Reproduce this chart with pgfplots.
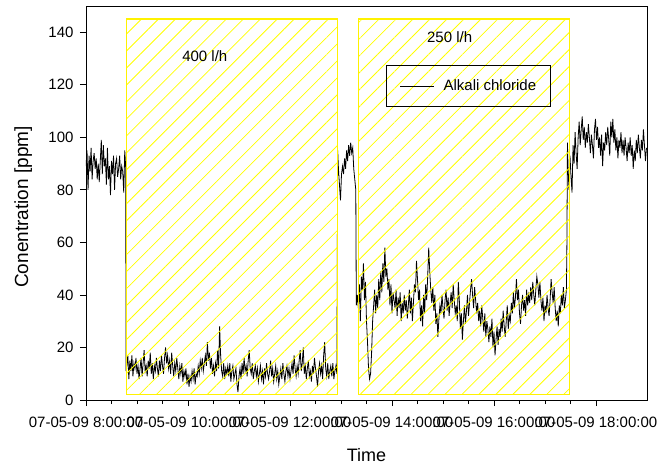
\documentclass[border=0pt]{standalone}
\usepackage{fontspec}
\setmainfont{Liberation Sans}
\usepackage{pgfplots}
\pgfplotsset{compat=1.18}
\usetikzlibrary{patterns.meta}

\begin{document}
\begin{tikzpicture}
\begin{axis}[
  at={(0pt,0pt)}, anchor=south west,
  scale only axis, width=561pt, height=394pt,
  xmin=8, xmax=19, ymin=0, ymax=150,
  xtick={8,10,12,14,16,18},
  xticklabels={07-05-09 8:00:00,07-05-09 10:00:00,07-05-09 12:00:00,07-05-09 14:00:00,07-05-09 16:00:00,07-05-09 18:00:00},
  minor x tick num=3,
  ytick={0,20,...,140},
  tick align=outside, tick pos=left,
  major tick length=6pt, minor tick length=4pt,
  every tick/.style={black, line width=0.8pt},
  axis line style={line width=0.8pt},
  ticklabel style={font=\fontsize{15}{18}\selectfont},
  xticklabel style={yshift=-7pt},
  yticklabel style={xshift=-3pt},
  /pgf/number format/assume math mode=true,
  xlabel={Time}, ylabel={Conentration [ppm]},
  x label style={at={(axis description cs:0.5,-0.14)}, anchor=center, font=\fontsize{18}{21}\selectfont},
  y label style={at={(axis description cs:-0.112,0.49)}, anchor=center, font=\fontsize{19}{22}\selectfont},
  legend style={at={(0.5355,0.8503)}, anchor=north west, draw=black, fill=none, line width=0.8pt,
    font=\fontsize{15}{18}\selectfont, inner xsep=13pt, inner ysep=13.5pt,
    nodes={inner sep=1pt},
    /tikz/every odd column/.append style={column sep=8pt}},
  legend image code/.code={\draw[#1] (0pt,0pt) -- (34pt,0pt);},
  legend cell align=left,
]
\addplot[black, line width=0.8pt] table {
x y
8.00 89
8.02 95
8.04 80
8.06 93
8.08 87
8.10 96
8.12 84
8.14 91
8.16 94
8.18 88
8.20 92
8.22 84
8.24 90
8.26 83
8.28 91
8.30 99
8.32 86
8.34 97
8.36 89
8.38 92
8.40 82
8.42 96
8.44 84
8.46 89
8.48 78
8.50 91
8.52 86
8.54 93
8.56 80
8.58 90
8.60 92
8.62 85
8.64 88
8.66 93
8.68 84
8.70 89
8.72 87
8.74 79
8.76 95
8.78 88
8.785 12
8.80 13
8.82 17
8.84 8
8.86 15
8.88 11
8.90 17
8.92 9
8.94 14
8.96 12
8.98 16
9.00 10
9.02 13
9.04 8
9.06 12
9.08 16
9.10 9
9.12 14
9.14 19
9.16 11
9.18 13
9.20 9
9.22 15
9.24 12
9.26 18
9.28 10
9.30 14
9.32 8
9.34 13
9.36 11
9.38 16
9.40 12
9.42 9
9.44 15
9.46 11
9.48 17
9.50 13
9.52 10
9.54 16
9.56 20
9.58 14
9.60 17
9.62 12
9.64 15
9.66 10
9.68 18
9.70 13
9.72 9
9.74 14
9.76 11
9.78 16
9.80 12
9.82 8
9.84 13
9.86 10
9.88 14
9.90 7
9.92 11
9.94 9
9.96 12
9.98 6
10.00 10
10.02 5
10.04 9
10.06 7
10.08 11
10.10 8
10.12 12
10.14 6
10.16 10
10.18 9
10.20 13
10.22 10
10.24 15
10.26 12
10.28 16
10.30 11
10.32 14
10.34 17
10.36 13
10.38 22
10.40 15
10.42 18
10.44 12
10.46 16
10.48 10
10.50 13
10.52 9
10.54 14
10.56 11
10.58 19
10.60 12
10.62 28
10.64 17
10.66 11
10.68 9
10.70 14
10.72 8
10.74 12
10.76 10
10.78 13
10.80 9
10.82 14
10.84 7
10.86 11
10.88 13
10.90 8
10.92 10
10.94 12
10.96 6
10.98 3
11.00 9
11.02 12
11.04 8
11.06 14
11.08 10
11.10 16
11.12 11
11.14 13
11.16 9
11.18 15
11.20 19
11.22 12
11.24 10
11.26 14
11.28 8
11.30 11
11.32 13
11.34 9
11.36 12
11.38 7
11.40 10
11.42 13
11.44 8
11.46 11
11.48 6
11.50 12
11.52 9
11.54 14
11.56 10
11.58 8
11.60 11
11.62 15
11.64 9
11.66 12
11.68 7
11.70 10
11.72 13
11.74 8
11.76 11
11.78 6
11.80 9
11.82 12
11.84 8
11.86 14
11.88 10
11.90 7
11.92 11
11.94 13
11.96 9
11.98 12
12.00 8
12.02 11
12.04 14
12.06 10
12.08 17
12.10 12
12.12 9
12.14 13
12.16 10
12.18 15
12.20 19
12.22 11
12.24 14
12.26 20
12.28 10
12.30 13
12.32 8
12.34 12
12.36 15
12.38 9
12.40 11
12.42 7
12.44 13
12.46 10
12.48 16
12.50 12
12.52 9
12.54 5
12.56 11
12.58 14
12.60 10
12.62 13
12.64 8
12.66 17
12.68 22
12.70 12
12.72 9
12.74 14
12.76 8
12.78 11
12.80 13
12.82 9
12.84 14
12.86 8
12.88 11
12.90 13
12.92 10
12.935 95
12.95 88
12.97 82
12.99 76
13.01 86
13.03 89
13.05 86
13.07 92
13.09 88
13.11 95
13.13 91
13.15 97
13.17 93
13.19 98
13.21 94
13.23 96
13.25 88
13.27 84
13.29 80
13.30 36
13.32 40
13.34 35
13.36 44
13.38 30
13.40 47
13.42 42
13.44 52
13.46 38
13.48 45
13.50 30
13.52 22
13.54 12
13.56 8
13.58 10
13.60 18
13.62 30
13.64 36
13.66 42
13.68 33
13.70 40
13.72 35
13.74 46
13.76 38
13.78 49
13.80 41
13.82 52
13.84 45
13.86 58
13.88 47
13.90 50
13.92 42
13.94 46
13.96 36
13.98 44
14.00 33
14.02 41
14.04 38
14.06 35
14.08 42
14.10 32
14.12 39
14.14 35
14.16 41
14.18 30
14.20 37
14.22 33
14.24 40
14.26 34
14.28 38
14.30 31
14.32 36
14.34 42
14.36 33
14.38 39
14.40 30
14.42 37
14.44 44
14.46 41
14.48 53
14.50 46
14.52 38
14.54 42
14.56 30
14.58 36
14.60 28
14.62 40
14.64 33
14.66 44
14.68 38
14.70 47
14.72 58
14.74 49
14.76 42
14.78 37
14.80 43
14.82 34
14.84 40
14.86 29
14.88 33
14.90 24
14.92 31
14.94 36
14.96 33
14.98 40
15.00 35
15.02 31
15.04 38
15.06 42
15.08 34
15.10 39
15.12 32
15.14 37
15.16 41
15.18 35
15.20 44
15.22 38
15.24 33
15.26 36
15.28 30
15.30 45
15.32 38
15.34 27
15.36 33
15.38 23
15.40 30
15.42 36
15.44 29
15.46 34
15.48 40
15.50 32
15.52 37
15.54 42
15.56 46
15.58 40
15.60 35
15.62 43
15.64 38
15.66 33
15.68 37
15.70 30
15.72 34
15.74 28
15.76 36
15.78 31
15.80 26
15.82 33
15.84 24
15.86 30
15.88 27
15.90 22
15.92 28
15.94 24
15.96 31
15.98 20
16.00 26
16.02 17
16.04 23
16.06 28
16.08 21
16.10 27
16.12 24
16.14 31
16.16 26
16.18 34
16.20 28
16.22 24
16.24 30
16.26 36
16.28 27
16.30 32
16.32 30
16.34 37
16.36 33
16.38 41
16.40 35
16.42 39
16.44 46
16.46 38
16.48 42
16.50 33
16.52 29
16.54 36
16.56 40
16.58 34
16.60 38
16.62 32
16.64 42
16.66 36
16.68 40
16.70 37
16.72 43
16.74 38
16.76 45
16.78 40
16.80 36
16.82 42
16.84 47
16.86 44
16.88 39
16.90 45
16.92 38
16.94 34
16.96 39
16.98 30
17.00 36
17.02 33
17.04 40
17.06 35
17.08 32
17.10 38
17.12 46
17.14 41
17.16 37
17.18 43
17.20 35
17.22 30
17.24 34
17.26 28
17.28 36
17.30 33
17.32 40
17.34 36
17.36 43
17.38 35
17.40 38
17.42 42
17.43 60
17.44 98
17.45 90
17.47 80
17.49 93
17.51 85
17.53 79
17.55 97
17.57 90
17.59 102
17.61 94
17.63 88
17.65 100
17.67 106
17.69 97
17.71 103
17.73 108
17.75 99
17.77 104
17.79 96
17.81 102
17.83 98
17.85 105
17.87 100
17.89 94
17.91 101
17.93 97
17.95 92
17.97 103
17.99 107
18.01 99
18.03 104
18.05 96
18.07 100
18.09 93
18.11 101
18.13 89
18.15 98
18.17 95
18.19 102
18.21 97
18.23 104
18.25 99
18.27 93
18.29 106
18.31 100
18.33 107
18.35 98
18.37 103
18.39 95
18.41 100
18.43 92
18.45 99
18.47 96
18.49 102
18.51 94
18.53 99
18.55 93
18.57 100
18.59 96
18.61 91
18.63 98
18.65 94
18.67 100
18.69 93
18.71 97
18.73 88
18.75 95
18.77 91
18.79 99
18.81 94
18.83 101
18.85 96
18.87 92
18.89 99
18.91 95
18.93 103
18.95 97
18.97 91
18.99 96
};
\addlegendentry{Alkali chloride}
\addplot[forget plot, draw=yellow, line width=1.3pt, pattern={Lines[angle=45,distance=12pt,line width=0.8pt]}, pattern color=yellow]
  coordinates {(8.79,2) (12.925,2) (12.925,145) (8.79,145)} -- cycle;
\addplot[forget plot, draw=yellow, line width=1.3pt, pattern={Lines[angle=45,distance=12pt,line width=0.8pt]}, pattern color=yellow]
  coordinates {(13.34,2) (17.48,2) (17.48,145) (13.34,145)} -- cycle;
\node[font=\fontsize{15}{18}\selectfont] at (axis cs:10.33,131) {400 l/h};
\node[font=\fontsize{15}{18}\selectfont] at (axis cs:15.13,138) {250 l/h};
\end{axis}
\pgfresetboundingbox
\path[use as bounding box] (-86pt,-66pt) rectangle (576pt,400pt);
\end{tikzpicture}
\end{document}
